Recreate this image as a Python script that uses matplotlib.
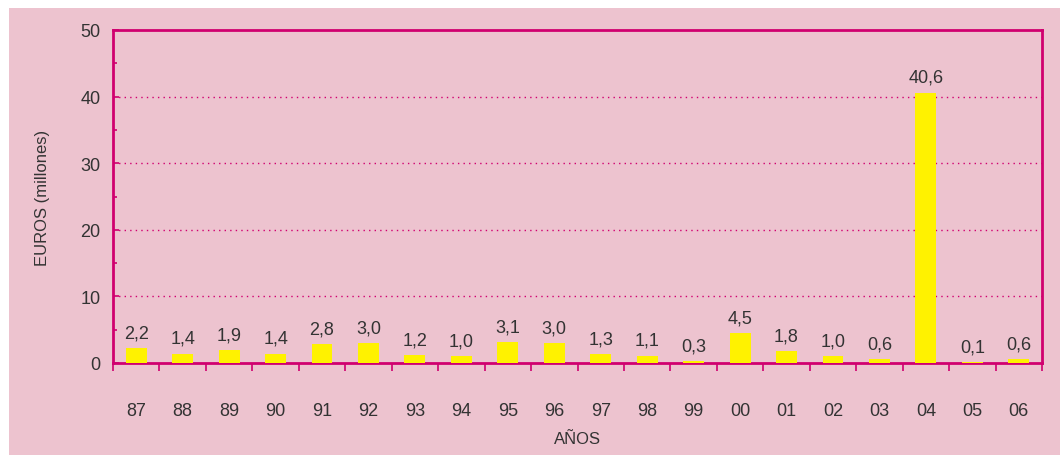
import matplotlib
matplotlib.use('Agg')
import matplotlib.pyplot as plt
from matplotlib.patches import Rectangle

# Datos: importe anual (millones de euros)
years = ['87', '88', '89', '90', '91', '92', '93', '94', '95', '96',
         '97', '98', '99', '00', '01', '02', '03', '04', '05', '06']
values = [2.2, 1.4, 1.9, 1.4, 2.8, 3.0, 1.2, 1.0, 3.1, 3.0,
          1.3, 1.1, 0.3, 4.5, 1.8, 1.0, 0.6, 40.6, 0.1, 0.6]

pink = '#edc3cf'
magenta = '#d0006f'
yellow = '#fff200'
text_col = '#333333'

plt.rcParams['font.family'] = ['Liberation Sans', 'DejaVu Sans']

fig = plt.figure(figsize=(10.6, 4.56), dpi=100, facecolor='white')
# fondo rosa del recuadro
bg = Rectangle((9 / 1060, 0), 1 - 9 / 1060, 1 - 9 / 456,
               transform=fig.transFigure, facecolor=pink, edgecolor='none')
bg.set_zorder(-10)
fig.add_artist(bg)

ax = fig.add_axes([113 / 1060, 1 - 364 / 456, (1042 - 113) / 1060, (364 - 31) / 456])
ax.set_zorder(1)
ax.set_facecolor(pink)

x = list(range(len(years)))
ax.bar(x, values, width=0.45, color=yellow, zorder=3)

for xi, v in zip(x, values):
    ax.annotate(('%.1f' % v).replace('.', ','), (xi, v), xytext=(0, 5),
                textcoords='offset points', ha='center', va='bottom',
                fontsize=13, color=text_col)

ax.set_xlim(-0.5, len(years) - 0.5)
ax.set_ylim(0, 50)

# ticks y
ax.set_yticks([0, 10, 20, 30, 40, 50])
ax.set_yticks([5, 15, 25, 35, 45], minor=True)
ax.tick_params(axis='y', which='major', direction='in', length=4, width=1.2,
               color=magenta, labelsize=13, labelcolor=text_col, pad=9)
ax.tick_params(axis='y', which='minor', direction='in', length=3, width=1.2,
               color=magenta)

# ticks x: marcas en los limites, etiquetas en el centro
ax.set_xticks([i - 0.5 for i in range(len(years) + 1)])
ax.set_xticklabels([])
ax.set_xticks(x, minor=True)
ax.set_xticklabels(years, minor=True)
ax.tick_params(axis='x', which='major', direction='out', length=6, width=1.2,
               color=magenta)
ax.tick_params(axis='x', which='minor', length=0, labelsize=13,
               labelcolor=text_col, pad=28)

for s in ax.spines.values():
    s.set_color(magenta)
    s.set_linewidth(2)

for g in [10, 20, 30, 40]:
    ax.axhline(g, color=magenta, linestyle=(0, (1, 3)), linewidth=1, zorder=1)

ax.set_ylabel('EUROS (millones)', fontsize=12, color=text_col, labelpad=22)
ax.set_xlabel('AÑOS', fontsize=12, color=text_col, labelpad=9)

fig.savefig('out.png', dpi=100, facecolor='white')
